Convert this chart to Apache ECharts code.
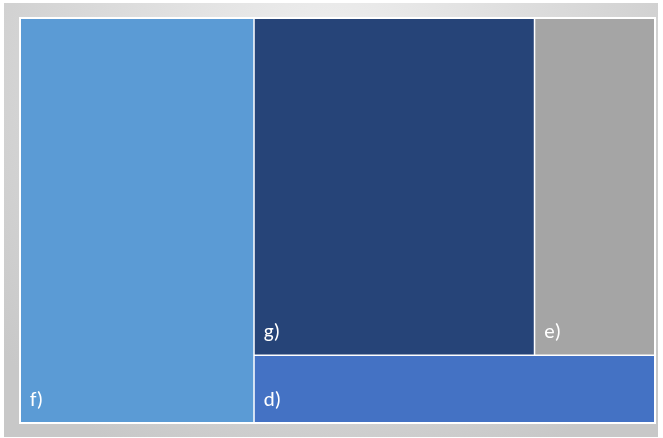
<!DOCTYPE html>
<html>
<head>
<meta charset="utf-8">
<script src="https://cdn.jsdelivr.net/npm/echarts@6/dist/echarts.min.js"></script>
<style>
html, body { margin: 0; padding: 0; background: #fff; }
#main { width: 663px; height: 438px; }
</style>
</head>
<body>
<div id="main"></div>
<script>
var names = ['f)', 'g)', 'e)', 'd)'];
var values = [7, 7, 3, 2];
var colors = ['#5B9BD5', '#264478', '#A5A5A5', '#4472C4'];

var myChart = echarts.init(document.getElementById('main'));

function leaf(i) {
  return { name: names[i], value: values[i], itemStyle: { color: colors[i] } };
}

// f on the left, then g + e on top and d under them
var treeData = [
  leaf(0),
  {
    name: '',
    children: [
      { name: '', children: [leaf(1), leaf(2)] },
      leaf(3)
    ]
  }
];

var option = {
  backgroundColor: '#fff',
  graphic: [{
    type: 'rect',
    left: 4, top: 3,
    shape: { width: 654, height: 434 },
    style: {
      fill: new echarts.graphic.RadialGradient(0.5, 0.15, 1.0, [
        { offset: 0, color: '#f0f0f0' },
        { offset: 1, color: '#c8c8c8' }
      ])
    },
    silent: true,
    z: -10
  }],
  series: [{
    type: 'treemap',
    left: 19, top: 17, width: 637, height: 407,
    roam: false,
    nodeClick: false,
    sort: false,
    squareRatio: 1,
    animation: false,
    breadcrumb: { show: false },
    itemStyle: { borderWidth: 0, gapWidth: 1.5, borderColor: '#fff' },
    levels: [
      { itemStyle: { borderWidth: 2, gapWidth: 1.5, borderColor: '#fff' } },
      { itemStyle: { borderWidth: 0, gapWidth: 1.5, borderColor: '#fff' } },
      { itemStyle: { borderWidth: 0, gapWidth: 1.5, borderColor: '#fff' } },
      { itemStyle: { borderWidth: 0, gapWidth: 1.5, borderColor: '#fff' } }
    ],
    label: {
      show: true,
      position: 'insideBottomLeft',
      distance: 9,
      padding: [0, 0, 2, 0],
      color: '#fff',
      fontFamily: 'Carlito, Lato, sans-serif',
      fontSize: 21
    },
    data: treeData
  }]
};

myChart.setOption(option);
window.addEventListener('resize', function () {
  myChart.resize();
});
</script>
</body>
</html>
